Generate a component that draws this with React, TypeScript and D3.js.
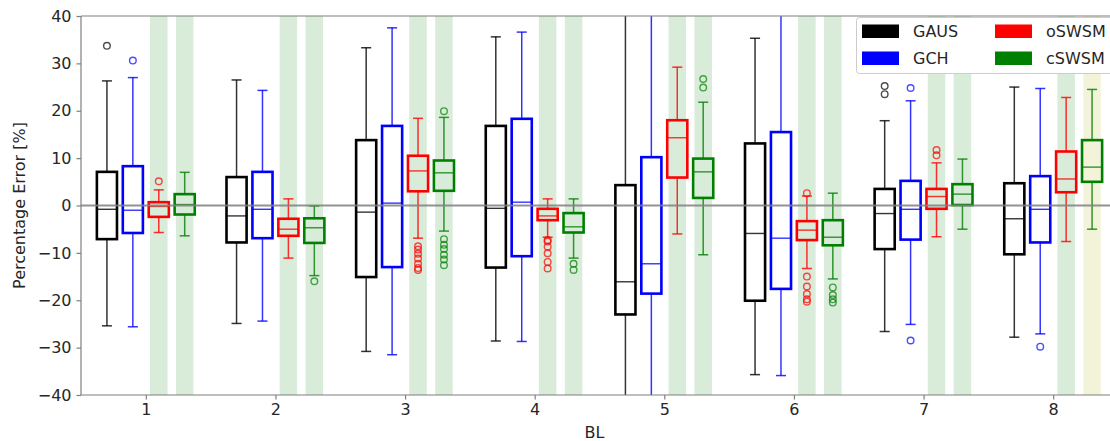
import React, { useRef, useEffect } from "react";
import * as d3 from "d3";

// [whisker low, Q1, median, Q3, whisker high] for BL 1..8
const groups = [1, 2, 3, 4, 5, 6, 7, 8];
const seriesNames = ["GAUS", "GCH", "oSWSM", "cSWSM"];
const seriesColors = ["#000000", "#0000ff", "#ff0000", "#008000"];
const seriesOffsets = [-0.3, -0.1, 0.1, 0.3];

const gausStats = [
  [-25.4, -7.1, -0.8, 7.1, 26.3],
  [-24.9, -7.8, -2.2, 6.0, 26.5],
  [-30.8, -15.1, -1.4, 13.8, 33.3],
  [-28.6, -13.1, -0.6, 16.8, 35.6],
  [-48, -23.0, -16.1, 4.3, 45],
  [-35.7, -20.1, -5.9, 13.1, 35.3],
  [-26.6, -9.2, -1.7, 3.5, 17.9],
  [-27.8, -10.3, -2.8, 4.7, 25.0],
];
const gchStats = [
  [-25.6, -5.8, -1.0, 8.3, 27.0],
  [-24.4, -6.9, -0.8, 7.1, 24.3],
  [-31.5, -13.0, 0.5, 16.8, 37.5],
  [-28.7, -10.7, 0.7, 18.3, 36.6],
  [-45, -18.6, -12.3, 10.2, 42],
  [-35.9, -17.6, -6.9, 15.5, 45],
  [-25.1, -7.2, -0.8, 5.2, 22.1],
  [-27.1, -7.8, -0.8, 6.2, 24.7],
];
const oswsmStats = [
  [-5.7, -2.4, -0.2, 0.7, 3.3],
  [-11.1, -6.4, -5.0, -2.8, 1.4],
  [-6.9, 3.0, 7.3, 10.5, 18.4],
  [-6.7, -3.1, -2.2, -0.7, 1.4],
  [-6.0, 5.9, 14.3, 18.0, 29.2],
  [-13.3, -7.3, -5.2, -3.3, 2.0],
  [-6.6, -0.7, 1.9, 3.5, 9.0],
  [-7.6, 2.8, 5.6, 11.4, 22.8],
];
const cswsmStats = [
  [-6.4, -1.9, 0.2, 2.4, 7.0],
  [-14.8, -7.9, -4.7, -2.7, -0.1],
  [-5.4, 3.1, 6.9, 9.5, 18.6],
  [-11.1, -5.7, -4.5, -1.6, 1.4],
  [-10.4, 1.6, 7.1, 9.9, 21.8],
  [-15.5, -8.4, -6.7, -3.1, 2.6],
  [-5.0, 0.1, 2.4, 4.5, 9.8],
  [-5.0, 5.0, 8.1, 13.8, 24.5],
];

// outliers per BL
const gausFliers = [[33.7], [], [], [], [], [], [25.2, 23.5], []];
const gchFliers = [[30.6], [], [], [], [], [], [24.8, -28.5], [-29.8]];
const oswsmFliers = [
  [5.1],
  [],
  [-8.6, -9.3, -10.2, -11.2, -12.3, -13.2, -13.6],
  [-7.3, -7.6, -8.7, -10.1, -11.9, -13.3],
  [],
  [2.6, -15.0, -17.1, -18.7, -19.8, -20.3],
  [11.7, 10.6],
  [],
];
const cswsmFliers = [
  [],
  [-16.0],
  [19.9, -7.1, -8.3, -9.2, -10.4, -11.4, -12.6],
  [-12.3, -13.6],
  [26.7, 24.9],
  [-17.3, -18.9, -19.8, -20.5],
  [],
  [],
];

// background band colour behind oSWSM / cSWSM
const oswsmBands = ["g", "g", "g", "g", "g", "g", "g", "g"];
const cswsmBands = ["g", "g", "g", "g", "g", "g", "g", "y"];

const yTicks = [-40, -30, -20, -10, 0, 10, 20, 30, 40];

const App = () => {
  const ref = useRef<SVGSVGElement | null>(null);

  useEffect(() => {
    if (!ref.current) return;
    const svg = d3.select(ref.current);
    svg.selectAll("*").remove();

    const W = 1110;
    const H = 441;
    const m = { left: 81, top: 16, bottom: 395, right: 1118 };
    const font = "DejaVu Sans, sans-serif";

    const x = d3.scaleLinear().domain([0.5, 8.5]).range([m.left, m.right]);
    const y = d3.scaleLinear().domain([-40, 40]).range([m.bottom, m.top]);
    const unit = x(1) - x(0);

    svg.attr("width", W).attr("height", H);
    svg.append("rect").attr("width", W).attr("height", H).attr("fill", "#fff");

    svg
      .append("clipPath")
      .attr("id", "plotclip")
      .append("rect")
      .attr("x", m.left)
      .attr("y", m.top)
      .attr("width", m.right - m.left)
      .attr("height", m.bottom - m.top);

    const plot = svg.append("g").attr("clip-path", "url(#plotclip)");

    // bands
    const bandW = 0.135 * unit;
    const bandFill = (c: string) => (c === "y" ? "#f3f3da" : "#d9ebd9");
    groups.forEach((g, i) => {
      [
        [seriesOffsets[2], oswsmBands[i]],
        [seriesOffsets[3], cswsmBands[i]],
      ].forEach(([off, c]) => {
        plot
          .append("rect")
          .attr("x", x(g + (off as number)) - bandW / 2)
          .attr("y", m.top)
          .attr("width", bandW)
          .attr("height", m.bottom - m.top)
          .attr("fill", bandFill(c as string));
      });
    });

    const allStats = [gausStats, gchStats, oswsmStats, cswsmStats];
    const allFliers = [gausFliers, gchFliers, oswsmFliers, cswsmFliers];
    const boxW = 0.155 * unit;
    const capW = boxW / 2;

    allStats.forEach((stats, s) => {
      const col = seriesColors[s];
      stats.forEach(([lo, q1, med, q3, hi], i) => {
        const cx = x(groups[i] + seriesOffsets[s]);
        const gg = plot.append("g");
        // whiskers
        [
          [q3, hi],
          [q1, lo],
        ].forEach(([a, b]) => {
          gg.append("line")
            .attr("x1", cx).attr("x2", cx)
            .attr("y1", y(a)).attr("y2", y(b))
            .attr("stroke", col).attr("stroke-opacity", 0.8).attr("stroke-width", 1.5);
          gg.append("line")
            .attr("x1", cx - capW / 2).attr("x2", cx + capW / 2)
            .attr("y1", y(b)).attr("y2", y(b))
            .attr("stroke", col).attr("stroke-opacity", 0.8).attr("stroke-width", 1.5);
        });
        // box
        gg.append("rect")
          .attr("x", cx - boxW / 2)
          .attr("y", y(q3))
          .attr("width", boxW)
          .attr("height", y(q1) - y(q3))
          .attr("fill", "none")
          .attr("stroke", col)
          .attr("stroke-width", 2.6);
        // median
        gg.append("line")
          .attr("x1", cx - boxW / 2).attr("x2", cx + boxW / 2)
          .attr("y1", y(med)).attr("y2", y(med))
          .attr("stroke", col).attr("stroke-opacity", 0.8).attr("stroke-width", 1.4);
        // fliers
        allFliers[s][i].forEach((v) => {
          gg.append("circle")
            .attr("cx", cx).attr("cy", y(v)).attr("r", 3.3)
            .attr("fill", "none")
            .attr("stroke", col).attr("stroke-opacity", 0.7).attr("stroke-width", 1.4);
        });
      });
    });

    // zero line
    plot
      .append("line")
      .attr("x1", m.left).attr("x2", m.right)
      .attr("y1", y(0)).attr("y2", y(0))
      .attr("stroke", "#808080").attr("stroke-opacity", 0.85).attr("stroke-width", 2);

    // spines
    const spine = "#7f7f7f";
    svg.append("line").attr("x1", m.left).attr("x2", m.left).attr("y1", m.top).attr("y2", m.bottom)
      .attr("stroke", spine).attr("stroke-width", 1.2);
    svg.append("line").attr("x1", m.left).attr("x2", m.right).attr("y1", m.bottom).attr("y2", m.bottom)
      .attr("stroke", spine).attr("stroke-width", 1.2);
    svg.append("line").attr("x1", m.left).attr("x2", m.right).attr("y1", m.top).attr("y2", m.top)
      .attr("stroke", spine).attr("stroke-width", 1.2);

    // y axis
    const yAxis = svg
      .append("g")
      .attr("transform", `translate(${m.left},0)`)
      .call(
        d3.axisLeft(y).tickValues(yTicks).tickSize(4.5).tickPadding(5)
          .tickFormat((d) => String(d).replace("-", "\u2212"))
      );
    yAxis.select(".domain").remove();
    yAxis.selectAll("line").attr("stroke", spine).attr("stroke-width", 1.2);
    yAxis.selectAll("text").attr("font-family", font).attr("font-size", 16).attr("fill", "#262626");

    // x axis
    const xAxis = svg
      .append("g")
      .attr("transform", `translate(0,${m.bottom})`)
      .call(d3.axisBottom(x).tickValues(groups).tickSize(4.5).tickPadding(4).tickFormat(d3.format("d")));
    xAxis.select(".domain").remove();
    xAxis.selectAll("line").attr("stroke", spine).attr("stroke-width", 1.2);
    xAxis.selectAll("text").attr("font-family", font).attr("font-size", 16).attr("fill", "#262626");

    // axis titles
    svg.append("text")
      .attr("x", (m.left + m.right) / 2 - 5).attr("y", 438)
      .attr("text-anchor", "middle")
      .attr("font-family", font).attr("font-size", 16).attr("fill", "#262626")
      .text("BL");
    svg.append("text")
      .attr("transform", `translate(25,${(m.top + m.bottom) / 2}) rotate(-90)`)
      .attr("text-anchor", "middle")
      .attr("font-family", font).attr("font-size", 16).attr("fill", "#262626")
      .text("Percentage Error [%]");

    // legend
    const lg = svg.append("g");
    lg.append("rect")
      .attr("x", 856.5).attr("y", 17.5).attr("width", 270).attr("height", 56).attr("rx", 3)
      .attr("fill", "#fff")
      .attr("stroke", "#cccccc").attr("stroke-width", 1);
    seriesNames.forEach((name, i) => {
      const col = Math.floor(i / 2);
      const row = i % 2;
      const px = 862 + col * 133;
      const py = 24.5 + row * 27;
      lg.append("rect")
        .attr("x", px).attr("y", py).attr("width", 37).attr("height", 13.5)
        .attr("fill", seriesColors[i]);
      lg.append("text")
        .attr("x", px + 51).attr("y", py + 12.5)
        .attr("font-family", font).attr("font-size", 16).attr("fill", "#262626")
        .text(name);
    });
  }, []);

  return (
    <div style={{ position: "absolute", left: 0, top: 0 }}>
      <svg ref={ref} style={{ display: "block" }} />
    </div>
  );
};

export default App;
